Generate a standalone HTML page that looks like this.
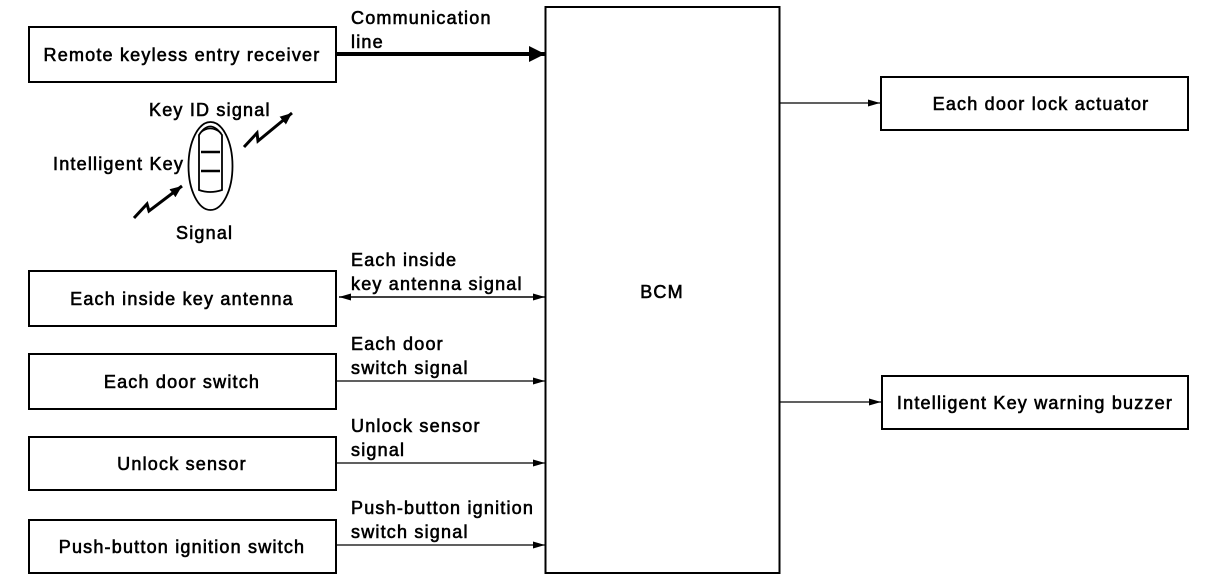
<!DOCTYPE html>
<html><head><meta charset="utf-8"><style>
html,body{margin:0;padding:0;background:#fff;}
svg{display:block;}
text{font-family:"Liberation Sans",Arial,sans-serif;font-size:18px;letter-spacing:1.2px;fill:#000;stroke:#000;stroke-width:0.6px;}
</style></head><body>
<svg width="1216" height="582" viewBox="0 0 1216 582" xmlns="http://www.w3.org/2000/svg">
<defs>
<marker id="ah" markerWidth="12" markerHeight="8" refX="12" refY="4" orient="auto" markerUnits="userSpaceOnUse"><path d="M0,0.5 L12,4 L0,7.5 Z" fill="#000"/></marker>
<marker id="ahs" markerWidth="12" markerHeight="8" refX="0" refY="4" orient="auto" markerUnits="userSpaceOnUse"><path d="M12,0.5 L0,4 L12,7.5 Z" fill="#000"/></marker>
<marker id="ahb" markerWidth="16" markerHeight="16" refX="16" refY="8" orient="auto" markerUnits="userSpaceOnUse"><path d="M0,0 L16,8 L0,16 Z" fill="#000"/></marker>
<marker id="ahk" markerWidth="12" markerHeight="10" refX="12" refY="5" orient="auto" markerUnits="userSpaceOnUse"><path d="M0,0 L12,5 L0,10 Z" fill="#000"/></marker>
</defs>
<g fill="none" stroke="#000" stroke-width="2">
<rect x="29" y="27" width="307" height="55"/>
<rect x="29" y="271" width="307" height="55"/>
<rect x="29" y="354" width="307" height="55"/>
<rect x="29" y="437" width="307" height="53"/>
<rect x="29" y="520" width="307" height="53"/>
<rect x="545.5" y="7" width="234" height="566"/>
<rect x="881" y="77" width="307" height="53"/>
<rect x="882" y="376" width="306" height="53"/>
</g>
<g stroke="#000" fill="none">
<line x1="337" y1="54" x2="545" y2="54" stroke-width="4" marker-end="url(#ahb)"/>
<line x1="339" y1="297" x2="545" y2="297" stroke-width="1.5" marker-start="url(#ahs)" marker-end="url(#ah)"/>
<line x1="337" y1="381" x2="545" y2="381" stroke-width="1.2" marker-end="url(#ah)"/>
<line x1="337" y1="463" x2="545" y2="463" stroke-width="1.2" marker-end="url(#ah)"/>
<line x1="337" y1="545" x2="545" y2="545" stroke-width="1.2" marker-end="url(#ah)"/>
<line x1="780" y1="103" x2="880" y2="103" stroke-width="1.2" marker-end="url(#ah)"/>
<line x1="780" y1="402" x2="881" y2="402" stroke-width="1.2" marker-end="url(#ah)"/>
<!-- key -->
<ellipse cx="210.5" cy="166" rx="22" ry="44" stroke-width="1.8"/>
<path d="M199,190 L199,135 Q210,118 222,135 L222,190 Q210,194 199,190 Z" stroke-width="1.8"/>
<path d="M200,133 Q210,124 221,133" stroke-width="1.5"/>
<line x1="201" y1="152" x2="220" y2="152" stroke-width="2.5"/>
<line x1="201" y1="171" x2="220" y2="171" stroke-width="2.5"/>
<polyline points="244,147 257,133 258,141 292,113" stroke-width="3" marker-end="url(#ahk)"/>
<polyline points="134,218 147,204 149,211 182,186" stroke-width="3" marker-end="url(#ahk)"/>
</g>
<g>
<text x="182" y="61" text-anchor="middle">Remote keyless entry receiver</text>
<text x="182" y="305" text-anchor="middle">Each inside key antenna</text>
<text x="182" y="388" text-anchor="middle">Each door switch</text>
<text x="182" y="470" text-anchor="middle">Unlock sensor</text>
<text x="182" y="553" text-anchor="middle">Push-button ignition switch</text>
<text x="1041" y="110" text-anchor="middle">Each door lock actuator</text>
<text x="1035" y="409" text-anchor="middle">Intelligent Key warning buzzer</text>
<text x="662" y="298" text-anchor="middle">BCM</text>
<text x="351" y="24">Communication</text>
<text x="351" y="48">line</text>
<text x="351" y="266">Each inside</text>
<text x="351" y="290">key antenna signal</text>
<text x="351" y="350">Each door</text>
<text x="351" y="374">switch signal</text>
<text x="351" y="432">Unlock sensor</text>
<text x="351" y="456">signal</text>
<text x="351" y="514">Push-button ignition</text>
<text x="351" y="538">switch signal</text>
<text x="149" y="116">Key ID signal</text>
<text x="53" y="170">Intelligent Key</text>
<text x="176" y="239">Signal</text>
</g>
</svg>
</body></html>
